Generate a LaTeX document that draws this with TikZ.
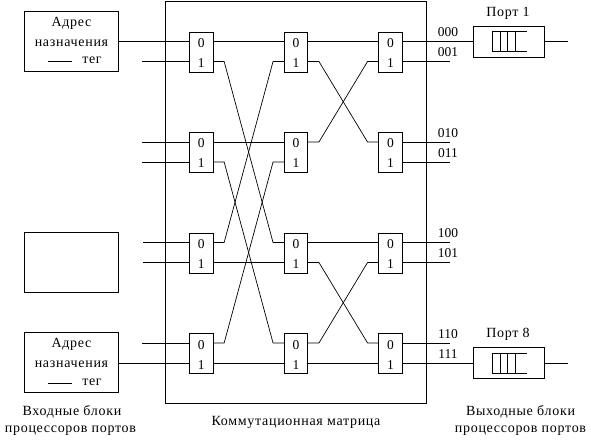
\documentclass[tikz,border=0pt]{standalone}
\usepackage{fontspec}
\setmainfont{Liberation Serif}
\newfontfamily\spaced[LetterSpace=5]{Liberation Serif}
\usepackage{xcolor}
\usepackage{tikz}
\usetikzlibrary{positioning}

\begin{document}
\begin{tikzpicture}[
  x=1pt, y=-1pt, font=\fontsize{13.5}{16}\selectfont,
  wire/.style={line width=0.9pt},
  thin wire/.style={line width=0.7pt},
  sw/.style={rectangle, draw, line width=0.9pt, minimum width=23.5pt, minimum height=40pt, inner sep=0pt},
  dig/.style={rectangle, minimum width=23.5pt, text height=12pt, text depth=0pt, inner sep=0pt},
  inbox/.style={rectangle, draw, line width=0.9pt, minimum width=94pt, minimum height=60pt, inner sep=0pt},
  qbox/.style={rectangle, draw, line width=0.9pt, minimum width=71pt, minimum height=31pt, inner sep=0pt},
  num/.style={inner sep=0pt},
  txt/.style={inner sep=0pt, font=\fontsize{14}{16}\spaced},
  cross/.style={to path={-- ++(11,0) -- ([xshift=-11pt]\tikztotarget) -- (\tikztotarget)}}]
  \useasboundingbox (0,0) rectangle (591,443);
  \def\xa{201.2}\def\xb{296}\def\xc{390.5}
  \def\ya{52}\def\yb{152.5}\def\yc{253}\def\yd{353.5}
  % Matrix frame
  \node[rectangle, draw, line width=0.9pt, minimum width=261pt, minimum height=401.5pt, inner sep=0pt] (matrix) at (296,202.2) {};
  % Input blocks
  \node[inbox] (in1) at (71.3,41.3) {};
  \node[inbox] (in2) at (71.3,262.3) {};
  \node[inbox] (in3) at (71.3,362.3) {};
  \node[txt] (in1a) at (71.5,23) {Адрес};
  \node[txt] (in1b) at (71.5,43) {назначения};
  \node[txt] (in1c) at (92,60) {тег};
  \node[txt] (in3a) at (71.5,344) {Адрес};
  \node[txt] (in3b) at (71.5,364) {назначения};
  \node[txt] (in3c) at (92,382) {тег};
  \coordinate (tag1l) at (47.5,61.5); \coordinate (tag1r) at (71.5,61.5);
  \coordinate (tag3l) at (47.5,383.5); \coordinate (tag3r) at (71.5,383.5);
  \draw[wire] (tag1l) -- (tag1r);
  \draw[wire] (tag3l) -- (tag3r);
  % Stage 1
  \node[sw] (a1) at (\xa,\ya) {}; \node[dig] (a1z) at (\xa,\ya-10.5) {0}; \node[dig] (a1o) at (\xa,\ya+9.5) {1};
  \node[sw] (a2) at (\xa,\yb) {}; \node[dig] (a2z) at (\xa,\yb-10.5) {0}; \node[dig] (a2o) at (\xa,\yb+9.5) {1};
  \node[sw] (a3) at (\xa,\yc) {}; \node[dig] (a3z) at (\xa,\yc-10.5) {0}; \node[dig] (a3o) at (\xa,\yc+9.5) {1};
  \node[sw] (a4) at (\xa,\yd) {}; \node[dig] (a4z) at (\xa,\yd-10.5) {0}; \node[dig] (a4o) at (\xa,\yd+9.5) {1};
  % Stage 2
  \node[sw] (b1) at (\xb,\ya) {}; \node[dig] (b1z) at (\xb,\ya-10.5) {0}; \node[dig] (b1o) at (\xb,\ya+9.5) {1};
  \node[sw] (b2) at (\xb,\yb) {}; \node[dig] (b2z) at (\xb,\yb-10.5) {0}; \node[dig] (b2o) at (\xb,\yb+9.5) {1};
  \node[sw] (b3) at (\xb,\yc) {}; \node[dig] (b3z) at (\xb,\yc-10.5) {0}; \node[dig] (b3o) at (\xb,\yc+9.5) {1};
  \node[sw] (b4) at (\xb,\yd) {}; \node[dig] (b4z) at (\xb,\yd-10.5) {0}; \node[dig] (b4o) at (\xb,\yd+9.5) {1};
  % Stage 3
  \node[sw] (c1) at (\xc,\ya) {}; \node[dig] (c1z) at (\xc,\ya-10.5) {0}; \node[dig] (c1o) at (\xc,\ya+9.5) {1};
  \node[sw] (c2) at (\xc,\yb) {}; \node[dig] (c2z) at (\xc,\yb-10.5) {0}; \node[dig] (c2o) at (\xc,\yb+9.5) {1};
  \node[sw] (c3) at (\xc,\yc) {}; \node[dig] (c3z) at (\xc,\yc-10.5) {0}; \node[dig] (c3o) at (\xc,\yc+9.5) {1};
  \node[sw] (c4) at (\xc,\yd) {}; \node[dig] (c4z) at (\xc,\yd-10.5) {0}; \node[dig] (c4o) at (\xc,\yd+9.5) {1};
  % Free ends on the inputs
  \coordinate (s1o) at (142,\ya+9.5);
  \coordinate (s2z) at (142,\yb-10.5); \coordinate (s2o) at (142,\yb+9.5);
  \coordinate (s3z) at (143,\yc-10.5); \coordinate (s3o) at (143,\yc+9.5);
  \coordinate (s4z) at (142,\yd-10.5);
  \draw[wire] (in1.east |- a1z) -- (a1z.west); \draw[wire] (s1o) -- (a1o.west);
  \draw[wire] (s2z) -- (a2z.west); \draw[wire] (s2o) -- (a2o.west);
  \draw[wire] (s3z) -- (a3z.west); \draw[wire] (s3o) -- (a3o.west);
  \draw[wire] (s4z) -- (a4z.west); \draw[wire] (in3.east |- a4o) -- (a4o.west);
  % Stage 1 to stage 2
  \draw[wire] (a1z.east) -- (b1z.west); \draw[wire] (a2z.east) -- (b2z.west);
  \draw[wire] (a3o.east) -- (b3o.west); \draw[wire] (a4o.east) -- (b4o.west);
  \draw[thin wire] (a1o.east) to[cross] (b3z.west);
  \draw[thin wire] (a2o.east) to[cross] (b4z.west);
  \draw[thin wire] (a3z.east) to[cross] (b1o.west);
  \draw[thin wire] (a4z.east) to[cross] (b2o.west);
  % Stage 2 to stage 3
  \draw[wire] (b1z.east) -- (c1z.west); \draw[wire] (b3z.east) -- (c3z.west);
  \draw[wire] (b4o.east) -- (c4o.west);
  \draw[thin wire] (b1o.east) to[cross] (c2z.west);
  \draw[thin wire] (b2z.east) to[cross] (c1o.west);
  \draw[thin wire] (b3o.east) to[cross] (c4z.west);
  \draw[thin wire] (b4z.east) to[cross] (c3o.west);
  % Output queues
  \node[qbox] (q1) at (509,41.7) {};
  \node[qbox] (q8) at (509,363) {};
  \draw[wire, shift={(q1.center)}] (18,-10) -- (-16.5,-10) -- (-16.5,10) -- (18,10) (-9,-10) -- (-9,10) (-1.5,-10) -- (-1.5,10) (6,-10) -- (6,10);
  \draw[wire, shift={(q8.center)}] (18,-10) -- (-16.5,-10) -- (-16.5,10) -- (18,10) (-9,-10) -- (-9,10) (-1.5,-10) -- (-1.5,10) (6,-10) -- (6,10);
  \coordinate (e1) at (568,41.7); \coordinate (e8) at (568,363);
  \draw[wire] (c1z.east) -- (q1.west |- c1z); \draw[wire] (q1.east) -- (e1);
  \draw[wire] (c4o.east) -- (q8.west |- c4o); \draw[wire] (q8.east) -- (e8);
  % Free ends on the outputs
  \coordinate (t1o) at (450,\ya+9.5);
  \coordinate (t2z) at (450,\yb-10.5); \coordinate (t2o) at (450,\yb+9.5);
  \coordinate (t3z) at (450,\yc-10.5); \coordinate (t3o) at (450,\yc+9.5);
  \coordinate (t4z) at (450,\yd-10.5);
  \draw[wire] (c1o.east) -- (t1o);
  \draw[wire] (c2z.east) -- (t2z); \draw[wire] (c2o.east) -- (t2o);
  \draw[wire] (c3z.east) -- (t3z); \draw[wire] (c3o.east) -- (t3o);
  \draw[wire] (c4z.east) -- (t4z);
  % Labels
  \node[num] (l000) at (448,32) {000}; \node[num] (l001) at (448,52.5) {001};
  \node[num] (l010) at (448,133) {010}; \node[num] (l011) at (448,153.5) {011};
  \node[num] (l100) at (448,233) {100}; \node[num] (l101) at (448,253.5) {101};
  \node[num] (l110) at (448,334) {110}; \node[num] (l111) at (448,354.5) {111};
  \node[txt] (p1) at (508,13) {Порт 1};
  \node[txt] (p8) at (508,334) {Порт 8};
  \node[txt] (capa) at (72,412) {Входные блоки};
  \node[txt] (capb) at (70.5,431) {процессоров портов};
  \node[txt] (capc) at (296,422) {Коммутационная матрица};
  \node[txt] (capd) at (520.5,412) {Выходные блоки};
  \node[txt] (cape) at (520.5,431) {процессоров портов};
\end{tikzpicture}
\end{document}
